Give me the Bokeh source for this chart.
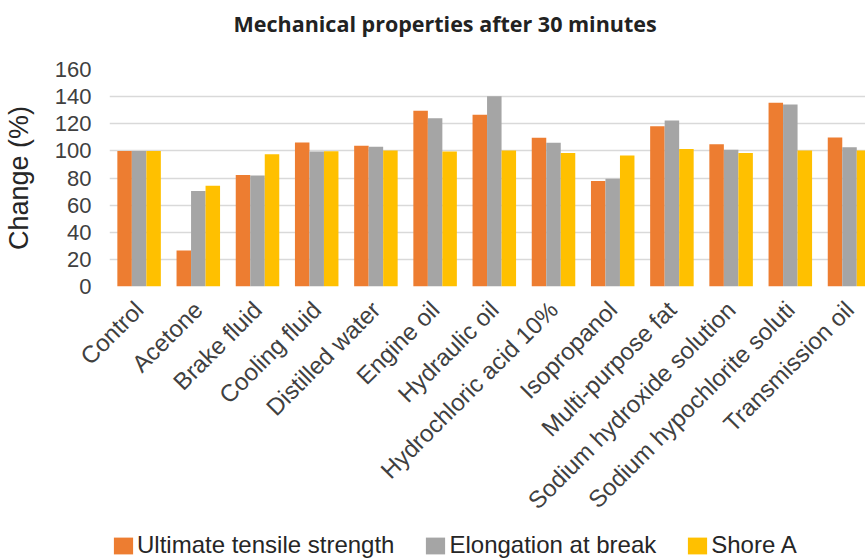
import math
from bokeh.plotting import figure
from bokeh.layouts import column
from bokeh.models import (ColumnDataSource, FixedTicker, Legend, LegendItem, Title,
                          Range1d, CustomJSTickFormatter)
from bokeh.transform import dodge
from bokeh.embed import file_html
from bokeh.resources import INLINE

categories = ["Control", "Acetone", "Brake fluid", "Cooling fluid", "Distilled water",
              "Engine oil", "Hydraulic oil", "Hydrochloric acid 10%", "Isopropanol",
              "Multi-purpose fat", "Sodium hydroxide solution", "Sodium hypochlorite soluti",
              "Transmission oil"]
uts = [100, 26.5, 82.3, 106.2, 103.7, 129.5, 126.6, 109.6, 77.7, 118.2, 104.9, 135.4, 109.9]
elongation = [100, 70.5, 81.8, 99.5, 103.0, 124.1, 140.3, 105.9, 79.4, 122.4, 100.8, 134.2, 102.7]
shore_a = [100, 74.2, 97.6, 99.8, 100.3, 99.5, 100.3, 98.5, 96.6, 101.3, 98.5, 100.3, 100.3]
series_names = ["Ultimate tensile strength", "Elongation at break", "Shore A"]
series_colors = ["#ED7D31", "#A5A5A5", "#FFC000"]
y_ticks = [0, 20, 40, 60, 80, 100, 120, 140, 160]

idx = list(range(len(categories)))
src = ColumnDataSource(dict(idx=idx, cat=categories, uts=uts, elong=elongation, shore=shore_a))
fields = ["uts", "elong", "shore"]
offsets = [-0.245, 0.0, 0.245]

p = figure(width=865, height=531, title=None,
           x_range=Range1d(-0.5, 12.27), y_range=Range1d(0, 160),
           output_backend="svg", toolbar_location=None,
           min_border_left=109, min_border_right=0, min_border_top=69, min_border_bottom=245)

# spacer (nearest the frame) then the real title above it
spacer = Title(text=" ", text_font_size="1px", standoff=29)
p.add_layout(spacer, "above")
title = Title(text="Mechanical properties after 30 minutes", align="left", offset=124,
              standoff=0, text_font="Open Sans", text_font_style="bold",
              text_font_size="21.5px", text_color="#222222")
p.add_layout(title, "above")

p.outline_line_color = None
p.xgrid.visible = False
p.ygrid.grid_line_color = "#D9D9D9"
p.ygrid.grid_line_width = 1.5

p.yaxis.ticker = FixedTicker(ticks=y_ticks)
p.yaxis.axis_line_color = None
p.yaxis.major_tick_line_color = None
p.yaxis.minor_tick_line_color = None
p.yaxis.major_label_text_font = "Liberation Sans"
p.yaxis.major_label_text_font_size = "22px"
p.yaxis.major_label_text_color = "#404040"
p.yaxis.major_label_standoff = 12
p.yaxis.axis_label = "Change (%)"
p.yaxis.axis_label_text_font = "Liberation Sans"
p.yaxis.axis_label_text_font_size = "27px"
p.yaxis.axis_label_text_font_style = "normal"
p.yaxis.axis_label_text_color = "#262626"
p.yaxis.axis_label_standoff = 18

p.xaxis.ticker = FixedTicker(ticks=idx)
p.xaxis.formatter = CustomJSTickFormatter(args=dict(labels=categories),
                                          code="const k = Math.round(tick); return labels[k] || '';")
p.xaxis.axis_line_color = None
p.xaxis.major_tick_line_color = None
p.xaxis.minor_tick_line_color = None
p.xaxis.major_label_orientation = math.radians(45)
p.xaxis.major_label_text_font = "Liberation Sans"
p.xaxis.major_label_text_font_size = "24px"
p.xaxis.major_label_text_color = "#404040"
p.xaxis.major_label_standoff = 13

for f, off, c in zip(fields, offsets, series_colors):
    p.vbar(x=dodge("idx", off), top=f, width=0.245, source=src,
           fill_color=c, line_color=None)

# legend strip below the chart (hidden copies of the series supply the swatches)
lf = figure(width=865, height=28, x_range=Range1d(-0.5, 12.27), y_range=Range1d(0, 160),
            x_axis_type=None, y_axis_type=None, output_backend="svg",
            toolbar_location=None, min_border=0)
lf.outline_line_color = None
leg_renderers = [lf.vbar(x=dodge("idx", off), top=f, width=0.245, source=src,
                         fill_color=c, line_color=None, visible=False)
                 for f, off, c in zip(fields, offsets, series_colors)]
legend = Legend(items=[LegendItem(label=n, renderers=[r]) for n, r in zip(series_names, leg_renderers)],
                orientation="horizontal", location=(2, 0),
                glyph_width=24, glyph_height=21, label_standoff=2, spacing=29,
                padding=0, margin=0, border_line_color=None, background_fill_alpha=0,
                inactive_fill_alpha=0,
                label_text_font="Liberation Sans", label_text_font_size="24px",
                label_text_color="#262626")
lf.add_layout(legend, "center")

open("out.html", "w").write(file_html(column(p, lf), INLINE))
